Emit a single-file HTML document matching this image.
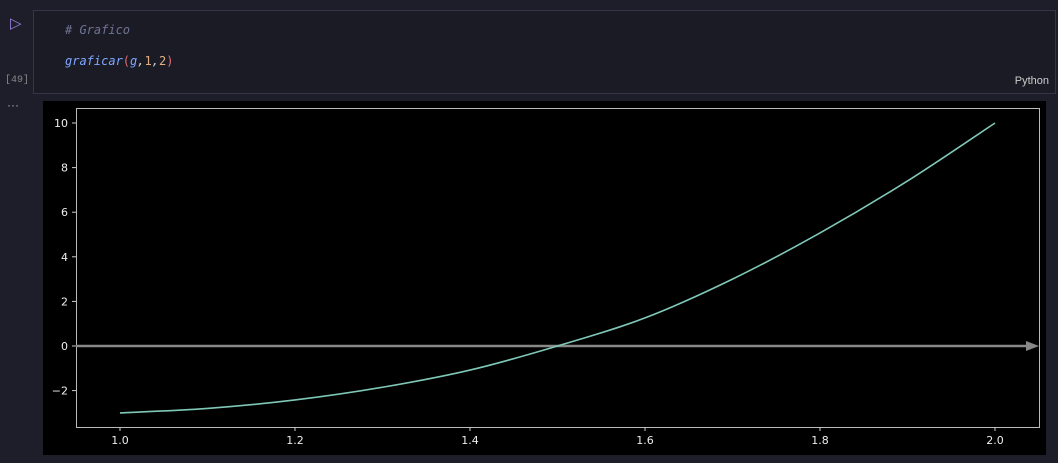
<!DOCTYPE html>
<html><head><meta charset="utf-8"><style>
body{margin:0;width:1058px;height:463px;background:#1e1e2a;overflow:hidden;font-family:"Liberation Sans",sans-serif;position:relative}
.cell{position:absolute;left:33px;top:10px;width:1021px;height:82px;background:#1b1b26;border:1px solid #35354a}
.code{position:absolute;font-family:"DejaVu Sans Mono","Liberation Mono",monospace;font-size:12px;font-style:italic}
</style></head><body>
<div style="position:absolute;left:10px;top:14px;color:#9b7fd8;font-size:15px">▷</div>
<div style="position:absolute;left:5px;top:75px;color:#888;font-size:10px;font-family:'Liberation Mono',monospace">[49]</div>
<div style="position:absolute;left:7px;top:98px;color:#aaa;font-size:12px">···</div>
<div class="cell">
<div class="code" style="left:31px;top:12px;color:#6e7394"># Grafico</div>
<div class="code" style="left:31px;top:43px;color:#7fa6ff">graficar<span style="color:#e06c75;font-style:normal">(</span>g<span style="color:#ccc">,</span><span style="color:#e0b080;font-style:normal">1</span><span style="color:#ccc">,</span><span style="color:#e0b080;font-style:normal">2</span><span style="color:#e06c75;font-style:normal">)</span></div>
<div style="position:absolute;right:6px;top:64px;color:#ccc;font-size:11px">Python</div>
</div>
<svg style="position:absolute;left:43px;top:101px" width="1003" height="354" id="chart"></svg>
<script>
const xs=[1.0,1.1,1.2,1.3,1.4,1.5,1.6,1.7,1.8,1.9,2.0];
const ys=[-3.0,-2.8,-2.42,-1.85,-1.08,0.0,1.26,3.0,5.07,7.4,10.0];
const xTicks=[1.0,1.2,1.4,1.6,1.8,2.0];
const yTicks=[-2,0,2,4,6,8,10];
const svg=document.getElementById('chart');
const NS='http://www.w3.org/2000/svg';
const ox=43,oy=101;
function X(v){return 120+(v-1)*875-ox;}
function Y(v){return 346-v*22.3-oy;}
function el(t,a){const e=document.createElementNS(NS,t);for(const k in a)e.setAttribute(k,a[k]);svg.appendChild(e);return e;}
let r=el('rect',{x:0,y:0,width:1003,height:354,fill:'#000'});


let fr=el('rect',{x:76-ox+0.5,y:108-oy+0.5,width:963,height:319,fill:'none',stroke:'#bbb','stroke-width':1});


xTicks.forEach(v=>{
 el('line',{x1:X(v),x2:X(v),y1:427-oy,y2:431-oy,stroke:'#ccc'});
 const t=el('text',{x:X(v),y:444-oy,fill:'#eee','font-size':11,'text-anchor':'middle','font-family':'DejaVu Sans, Liberation Sans, sans-serif'});
 t.textContent=v.toFixed(1);
 
 
});
yTicks.forEach(v=>{
 el('line',{x1:72-ox,x2:76-ox,y1:Y(v),y2:Y(v),stroke:'#ccc'});
 const t=el('text',{x:68-ox,y:Y(v)+4,fill:'#eee','font-size':11,'text-anchor':'end','font-family':'DejaVu Sans, Liberation Sans, sans-serif'});
 t.textContent=v<0?'\u2212'+Math.abs(v):String(v);
 
 
});
let ax=el('line',{x1:76-ox,x2:1028-ox,y1:Y(0),y2:Y(0),stroke:'#888','stroke-width':2.5});


let ah=el('polygon',{points:`${1026-ox},${Y(0)-5} ${1039-ox},${Y(0)} ${1026-ox},${Y(0)+5}`,fill:'#888'});


const P=xs.map((x,i)=>[X(x),Y(ys[i])]);
let d='M'+P[0][0]+','+P[0][1];
for(let i=0;i<P.length-1;i++){
 const p0=P[i-1]||P[i],p1=P[i],p2=P[i+1],p3=P[i+2]||P[i+1];
 d+=` C${p1[0]+(p2[0]-p0[0])/6},${p1[1]+(p2[1]-p0[1])/6} ${p2[0]-(p3[0]-p1[0])/6},${p2[1]-(p3[1]-p1[1])/6} ${p2[0]},${p2[1]}`;
}
let c=el('path',{d:d,fill:'none',stroke:'#7fc8b8','stroke-width':1.6});


</script>
</body></html>
